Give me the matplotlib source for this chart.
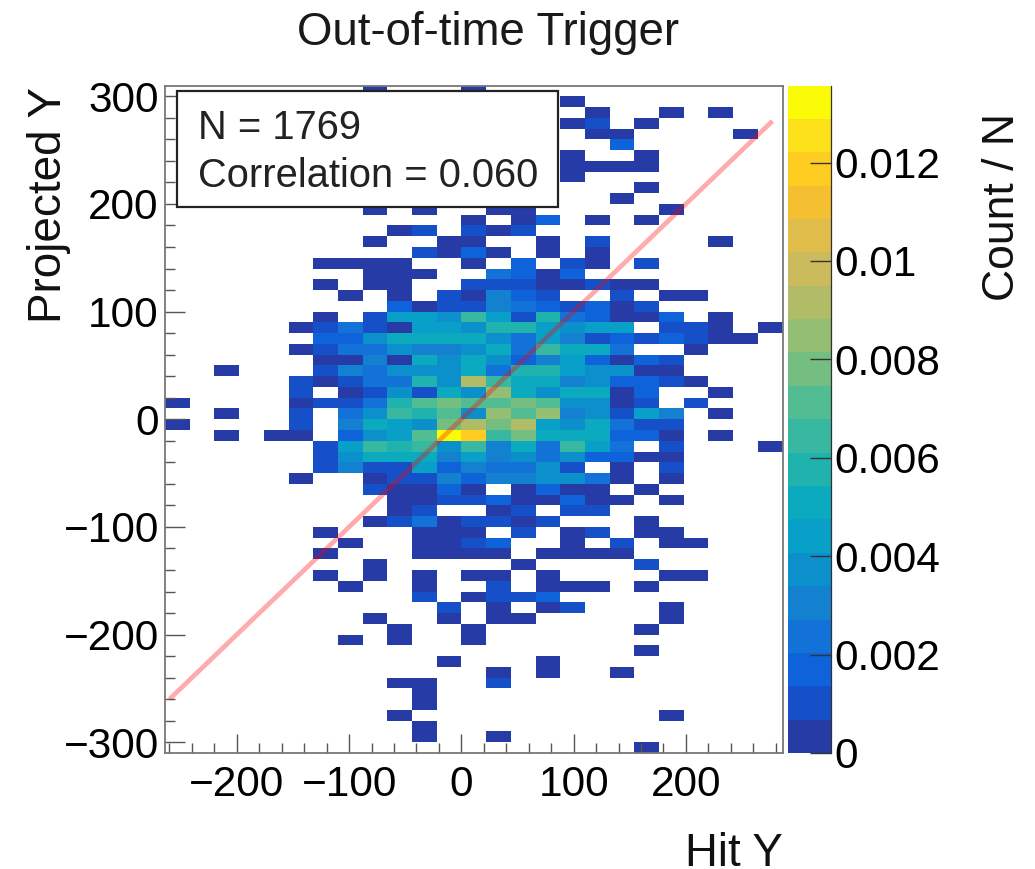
import numpy as np
import matplotlib
matplotlib.use("Agg")
import matplotlib.pyplot as plt
from matplotlib.colors import ListedColormap, Normalize
from matplotlib.ticker import MultipleLocator, FixedLocator, FixedFormatter

plt.rcParams['font.family'] = ['Liberation Sans', 'DejaVu Sans']

title = "Out-of-time Trigger"
x_label = "Hit Y"
y_label = "Projected Y"
z_label = "Count / N"
n_events = 1769
correlation = 0.060
max_count = 24
x_range = (-264, 286)
y_range = (-310, 310)
x_bins = 25
y_bins = 62
line_x = [-260, 277]
line_y = [-260, 277]
z_ticks = [0, 0.002, 0.004, 0.006, 0.008, 0.01, 0.012]
z_tick_labels = ["0", "0.002", "0.004", "0.006", "0.008", "0.01", "0.012"]
palette = ["#263BA5", "#1650C8", "#0E63DA", "#1272D8", "#1480D0", "#0C90CC",
           "#08A0C8", "#0CAABF", "#20B2AC", "#38B8A0", "#52BC92", "#74BE82",
           "#94BE74", "#B0BC66", "#CCBB5C", "#E0BC4A", "#F4C032", "#FFCC22",
           "#FBE01A", "#FBFB08"]

# counts per row from top row to bottom row, {column index: count}
counts_by_row = [
    {8: 1, 12: 1},
    {16: 1},
    {17: 1, 20: 1, 22: 1},
    {16: 1, 17: 2, 19: 1},
    {17: 1, 18: 1, 23: 1},
    {18: 3},
    {16: 1, 19: 1},
    {16: 1, 17: 1, 18: 1, 19: 1},
    {16: 1},
    {19: 1},
    {18: 1},
    {8: 1, 10: 1, 13: 1, 14: 1, 20: 1},
    {12: 1, 14: 1, 15: 3, 17: 1, 19: 1},
    {9: 1, 10: 2, 12: 2, 13: 1, 14: 2},
    {8: 1, 11: 1, 12: 1, 15: 1, 17: 2, 22: 1},
    {10: 2, 11: 1, 12: 3, 13: 1, 15: 1, 17: 1},
    {6: 1, 7: 1, 8: 1, 9: 1, 12: 1, 14: 3, 16: 2, 17: 1, 19: 2},
    {8: 1, 9: 1, 10: 1, 13: 4, 14: 3, 15: 1, 16: 3},
    {6: 1, 8: 1, 9: 1, 12: 2, 13: 2, 14: 2, 15: 1, 16: 1, 17: 2, 18: 1, 19: 1},
    {7: 1, 9: 1, 11: 2, 12: 1, 13: 5, 14: 3, 15: 2, 18: 2, 20: 1, 21: 1},
    {9: 3, 10: 1, 11: 2, 12: 2, 13: 5, 14: 4, 15: 3, 16: 2, 17: 3, 18: 1, 19: 2},
    {6: 1, 8: 2, 9: 8, 10: 8, 11: 6, 12: 11, 13: 8, 14: 2, 15: 10, 16: 4, 17: 3, 18: 1, 19: 1, 20: 3, 22: 1},
    {5: 1, 6: 2, 7: 4, 8: 2, 9: 1, 10: 8, 11: 8, 12: 6, 13: 10, 14: 10, 15: 8, 16: 6, 17: 8, 18: 8, 20: 2, 21: 2, 22: 1, 24: 1},
    {6: 3, 7: 3, 8: 6, 9: 9, 10: 9, 11: 9, 12: 9, 13: 6, 14: 4, 15: 8, 16: 5, 17: 2, 18: 3, 19: 2, 20: 3, 21: 2, 22: 1, 23: 1},
    {5: 1, 6: 2, 7: 4, 8: 4, 9: 6, 10: 5, 11: 5, 12: 6, 13: 9, 14: 4, 15: 11, 16: 9, 17: 9, 18: 4, 21: 1},
    {6: 1, 7: 1, 8: 5, 9: 1, 10: 9, 11: 6, 12: 9, 13: 6, 14: 3, 15: 5, 16: 8, 17: 3, 18: 1, 19: 3, 20: 2},
    {2: 1, 6: 2, 7: 5, 8: 4, 9: 6, 10: 6, 11: 6, 12: 9, 13: 4, 14: 10, 15: 10, 16: 8, 17: 6, 18: 6, 19: 1, 20: 1},
    {5: 2, 6: 1, 7: 2, 8: 4, 9: 4, 10: 10, 11: 6, 12: 16, 13: 11, 14: 9, 15: 9, 16: 5, 17: 6, 18: 3, 19: 3, 20: 2, 21: 1},
    {5: 2, 7: 1, 8: 2, 9: 6, 10: 2, 11: 9, 12: 6, 13: 15, 14: 9, 15: 6, 16: 9, 17: 9, 18: 1, 19: 3, 22: 1},
    {0: 1, 5: 1, 6: 2, 7: 2, 8: 4, 9: 10, 10: 12, 11: 14, 12: 12, 13: 12, 14: 14, 15: 12, 16: 6, 17: 6, 18: 1, 19: 2, 21: 2},
    {2: 1, 5: 2, 7: 4, 8: 6, 9: 11, 10: 10, 11: 12, 12: 6, 13: 15, 14: 12, 15: 15, 16: 5, 17: 6, 18: 2, 19: 8, 20: 5, 22: 1},
    {0: 1, 5: 2, 7: 5, 8: 9, 9: 8, 10: 6, 11: 14, 12: 16, 13: 14, 14: 16, 15: 8, 16: 6, 17: 9, 18: 4, 19: 2, 20: 2},
    {2: 1, 4: 1, 5: 1, 7: 3, 8: 6, 9: 8, 10: 12, 11: 24, 12: 21, 13: 11, 14: 14, 15: 9, 16: 9, 17: 9, 18: 3, 19: 3, 20: 1, 22: 1},
    {6: 2, 7: 8, 8: 11, 9: 10, 10: 11, 11: 6, 12: 11, 13: 5, 14: 9, 15: 4, 16: 11, 17: 8, 18: 4, 20: 2, 24: 1},
    {6: 2, 7: 6, 8: 9, 9: 9, 10: 9, 11: 5, 12: 8, 13: 5, 14: 6, 15: 4, 16: 6, 17: 3, 18: 3, 19: 1, 20: 1},
    {6: 2, 7: 5, 8: 2, 9: 2, 10: 8, 11: 3, 12: 5, 13: 4, 14: 4, 15: 6, 16: 2, 18: 1, 20: 2},
    {5: 1, 8: 1, 9: 2, 10: 2, 11: 5, 12: 3, 13: 5, 14: 5, 15: 6, 16: 6, 17: 4, 18: 1, 20: 1},
    {8: 2, 9: 1, 10: 1, 11: 3, 12: 1, 14: 1, 15: 3, 16: 1, 17: 1, 19: 1},
    {9: 1, 10: 1, 11: 2, 12: 2, 13: 3, 14: 1, 15: 1, 16: 3, 17: 1, 18: 1, 20: 1},
    {9: 1, 10: 2, 13: 1, 14: 2, 16: 2, 17: 2},
    {8: 1, 9: 2, 10: 4, 11: 1, 12: 2, 13: 2, 14: 1, 15: 2, 19: 1},
    {6: 1, 10: 1, 11: 1, 12: 1, 14: 2, 16: 1, 17: 2, 19: 1, 20: 1},
    {7: 1, 10: 1, 11: 1, 12: 2, 13: 3, 16: 1, 18: 2, 20: 1, 21: 1},
    {6: 1, 10: 1, 11: 1, 12: 1, 13: 1, 15: 1, 16: 1, 17: 1, 18: 1},
    {8: 1, 14: 1, 19: 2},
    {6: 1, 8: 1, 10: 1, 12: 1, 13: 1, 15: 1, 20: 1, 21: 1},
    {7: 1, 10: 1, 13: 2, 15: 1, 16: 1, 17: 1, 19: 1},
    {10: 2, 12: 1, 13: 2, 14: 2, 15: 3},
    {11: 2, 13: 1, 15: 1, 16: 2, 20: 1},
    {8: 1, 11: 1, 13: 1, 14: 1, 20: 1},
    {9: 1, 12: 1, 19: 1},
    {7: 1, 9: 1, 12: 1},
    {19: 1},
    {11: 1, 15: 1},
    {13: 1, 15: 1, 18: 1},
    {9: 1, 10: 1, 13: 2},
    {10: 1},
    {10: 1},
    {9: 1, 20: 1},
    {10: 1},
    {10: 1, 13: 1},
    {19: 1},
]

grid = np.zeros((y_bins, x_bins))
for r, row in enumerate(counts_by_row):
    for c, v in row.items():
        grid[y_bins - 1 - r, c] = v / n_events
grid = np.ma.masked_equal(grid, 0)

x_edges = np.linspace(x_range[0], x_range[1], x_bins + 1)
y_edges = np.linspace(y_range[0], y_range[1], y_bins + 1)

W, H = 1035, 869
fig = plt.figure(figsize=(W / 100, H / 100), dpi=100)
ax = fig.add_axes([165 / W, (H - 753) / H, 617.5 / W, 667.5 / H])
cax = fig.add_axes([787.5 / W, (H - 753) / H, 43 / W, 667.5 / H])

cmap = ListedColormap(palette)
norm = Normalize(0, max_count / n_events)
mesh = ax.pcolormesh(x_edges, y_edges, grid, cmap=cmap, norm=norm,
                     edgecolors='none', antialiased=False)
ax.plot(line_x, line_y, color='#ff0000', alpha=0.33, lw=3.4, solid_capstyle='butt', zorder=3)
ax.set_xlim(*x_range)
ax.set_ylim(*y_range)

frame = '#777777'
for s in ax.spines.values():
    s.set_color(frame)
    s.set_linewidth(1.3)
ax.xaxis.set_major_locator(MultipleLocator(100))
ax.xaxis.set_minor_locator(MultipleLocator(20))
ax.yaxis.set_major_locator(MultipleLocator(100))
ax.yaxis.set_minor_locator(MultipleLocator(20))
ax.tick_params(axis='x', which='major', direction='in', length=14, width=1, color='#555555',
               labelsize=30.5, pad=9)
ax.tick_params(axis='x', which='minor', direction='in', length=7, width=1, color='#555555')
ax.tick_params(axis='y', which='major', direction='in', length=14.5, width=1, color='#555555',
               labelsize=30.5, pad=4.5)
ax.tick_params(axis='y', which='minor', direction='in', length=7, width=1, color='#555555')

cb = fig.colorbar(mesh, cax=cax)
cb.outline.set_visible(False)
cax.spines['right'].set_visible(True)
cax.spines['right'].set_color('#333333')
cax.spines['right'].set_linewidth(0.9)
cb.ax.yaxis.set_major_locator(FixedLocator(z_ticks))
cb.ax.yaxis.set_major_formatter(FixedFormatter(z_tick_labels))
cb.ax.minorticks_off()
cb.ax.tick_params(axis='y', which='major', direction='in', length=15, width=1, color='#333333',
                  labelsize=30.5, pad=3)

fig.text(488 / W, 1 - 45 / H, title, ha='center', va='baseline', fontsize=32.8, color='#1a1a1a')
fig.text(783 / W, 1 - 866 / H, x_label, ha='right', va='baseline', fontsize=32.8, color='#111111')
fig.text(61 / W, 1 - 87 / H, y_label, ha='right', va='baseline', rotation=90, rotation_mode='anchor',
         fontsize=33, color='#111111')
fig.text(1014 / W, 1 - 113 / H, z_label, ha='right', va='baseline', rotation=90, rotation_mode='anchor',
         fontsize=32, color='#111111')

box = plt.Rectangle((177 / W, 1 - 207 / H), 381 / W, 116 / H, transform=fig.transFigure,
                    facecolor='white', edgecolor='#222222', lw=1.6, zorder=5)
fig.add_artist(box)
fig.text(198 / W, 1 - 139 / H, f"N = {n_events}", ha='left', va='baseline', fontsize=28.7, color='#222222', zorder=6)
fig.text(198 / W, 1 - 187 / H, f"Correlation = {correlation:.3f}", ha='left', va='baseline', fontsize=28.7,
         color='#222222', zorder=6)

fig.savefig("out.png", dpi=100)
